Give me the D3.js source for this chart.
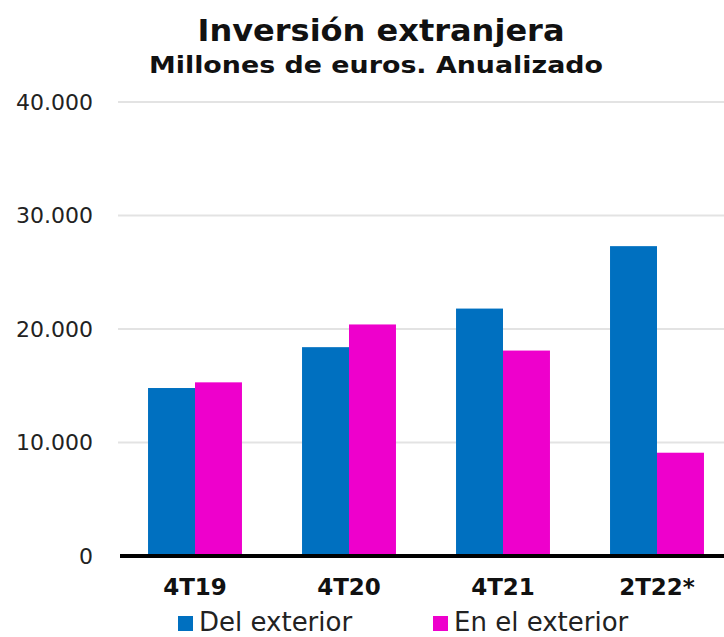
<!DOCTYPE html>
<html>
<head>
<meta charset="utf-8">
<script src="https://cdn.jsdelivr.net/npm/d3@7"></script>
<style>
  body { margin: 0; background: #fff; }
  svg { display: block; font-family: "DejaVu Sans", Verdana, sans-serif; }
</style>
</head>
<body>
<svg id="chart" width="724" height="637"></svg>
<script>
// data
var categories = ["4T19", "4T20", "4T21", "2T22*"];
var delExterior = [14800, 18400, 21800, 27300];
var enElExterior = [15300, 20400, 18100, 9100];
var seriesNames = ["Del exterior", "En el exterior"];
var seriesColors = ["#0070C0", "#EE00CC"];
var yTicks = [0, 10000, 20000, 30000, 40000];

var svg = d3.select("#chart");

// plot area (the right side runs past the picture edge)
var x0 = d3.scaleBand()
  .domain(categories)
  .range([118, 734])
  .paddingInner(0.39)
  .paddingOuter(0.195);

var x1 = d3.scaleBand()
  .domain(seriesNames)
  .range([0, x0.bandwidth()]);

var y = d3.scaleLinear()
  .domain([0, 40000])
  .range([556, 102]);

var fmt = function(d) { return d === 0 ? "0" : d3.format(",")(d).replace(/,/g, "."); };

// gridlines
svg.append("g")
  .attr("class", "grid")
  .selectAll("line")
  .data(yTicks.filter(function(d) { return d > 0; }))
  .enter()
  .append("line")
  .attr("x1", 118)
  .attr("x2", 724)
  .attr("y1", function(d) { return y(d); })
  .attr("y2", function(d) { return y(d); })
  .attr("stroke", "#e3e3e3")
  .attr("stroke-width", 2);

// y axis labels
var yAxis = svg.append("g")
  .attr("transform", "translate(93,0)")
  .call(d3.axisLeft(y).tickValues(yTicks).tickFormat(fmt).tickSize(0).tickPadding(0));
yAxis.select(".domain").remove();
yAxis.selectAll(".tick text")
  .attr("font-size", "22px")
  .attr("font-family", "DejaVu Sans, Verdana, sans-serif")
  .attr("fill", "#222");

// bars
var rows = categories.map(function(c, i) {
  return { cat: c, values: [delExterior[i], enElExterior[i]] };
});

var groups = svg.append("g")
  .selectAll("g")
  .data(rows)
  .enter()
  .append("g")
  .attr("transform", function(d) { return "translate(" + x0(d.cat) + ",0)"; });

groups.selectAll("rect")
  .data(function(d) { return d.values.map(function(v, j) { return { s: seriesNames[j], v: v, c: seriesColors[j] }; }); })
  .enter()
  .append("rect")
  .attr("x", function(d) { return x1(d.s); })
  .attr("width", x1.bandwidth())
  .attr("y", function(d) { return y(d.v); })
  .attr("height", function(d) { return y(0) - y(d.v); })
  .attr("fill", function(d) { return d.c; });

// x axis
var xAxis = svg.append("g")
  .attr("transform", "translate(0," + y(0) + ")")
  .call(d3.axisBottom(x0).tickSize(0).tickPadding(0));
xAxis.select(".domain").remove();
xAxis.append("line")
  .attr("x1", 120).attr("x2", 724)
  .attr("stroke", "#000")
  .attr("stroke-width", 4);
xAxis.selectAll(".tick text")
  .attr("y", 39)
  .attr("dy", null)
  .attr("font-size", "23px")
  .attr("font-weight", "bold")
  .attr("font-family", "DejaVu Sans, Verdana, sans-serif")
  .attr("fill", "#111");

// titles
svg.append("text")
  .attr("x", 381)
  .attr("y", 41)
  .attr("text-anchor", "middle")
  .attr("font-size", "30px")
  .attr("font-weight", "bold")
  .attr("textLength", 367)
  .attr("lengthAdjust", "spacingAndGlyphs")
  .attr("fill", "#111")
  .text("Inversión extranjera");

svg.append("text")
  .attr("x", 376)
  .attr("y", 73)
  .attr("text-anchor", "middle")
  .attr("font-size", "23px")
  .attr("font-weight", "bold")
  .attr("textLength", 454)
  .attr("lengthAdjust", "spacingAndGlyphs")
  .attr("fill", "#111")
  .text("Millones de euros. Anualizado");

// legend
var legendX = [178, 433];
var legend = svg.append("g")
  .selectAll("g")
  .data(seriesNames)
  .enter()
  .append("g")
  .attr("transform", function(d, i) { return "translate(" + legendX[i] + ",616)"; });

legend.append("rect")
  .attr("width", 15)
  .attr("height", 15)
  .attr("fill", function(d, i) { return seriesColors[i]; });

legend.append("text")
  .attr("x", 21)
  .attr("y", 15)
  .attr("font-size", "26px")
  .attr("fill", "#222")
  .text(function(d) { return d; });
</script>
</body>
</html>
